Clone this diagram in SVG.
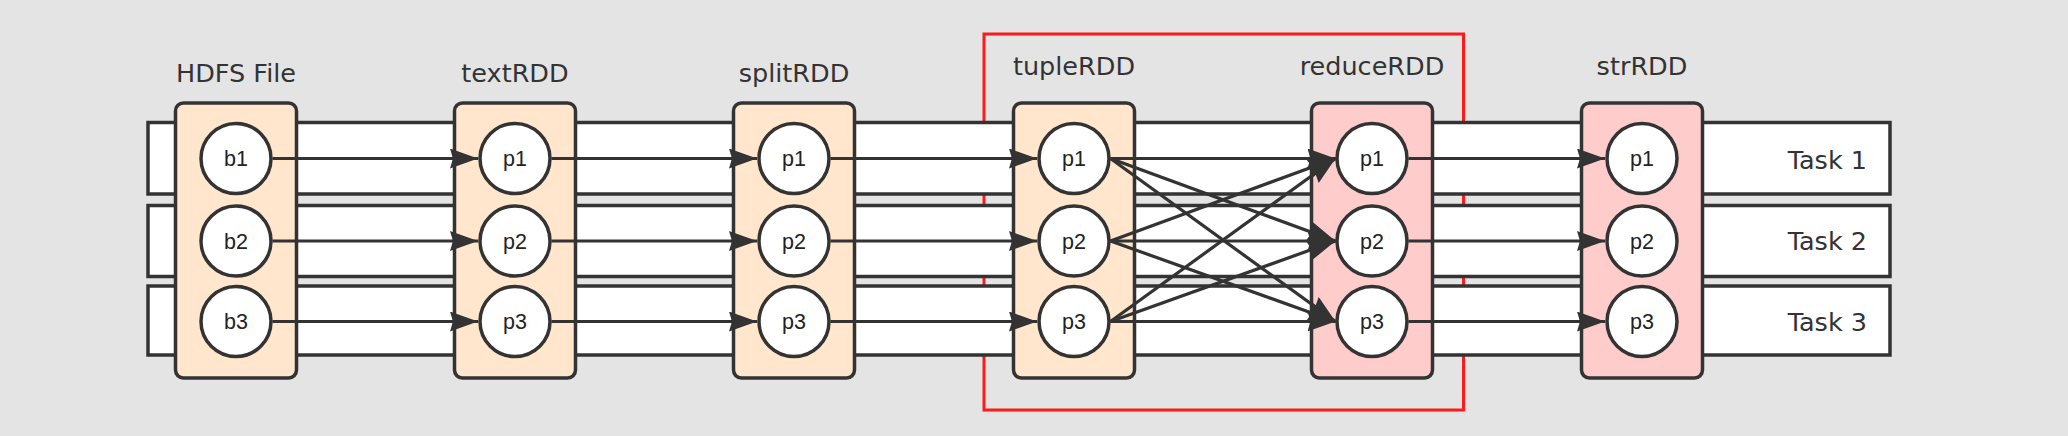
<svg xmlns="http://www.w3.org/2000/svg" width="2068" height="436" viewBox="0 0 2068 436">
<style>
.band{fill:#ffffff;stroke:#333333;stroke-width:3.5}
.box-o{fill:#ffe6cc;stroke:#333333;stroke-width:3.5}
.box-r{fill:#ffcccc;stroke:#333333;stroke-width:3.5}
.circ{fill:#ffffff;stroke:#333333;stroke-width:3.5}
.lbl{font-family:"DejaVu Sans",Verdana,sans-serif;font-size:25.5px;fill:#333333;text-anchor:middle}
.task{font-family:"DejaVu Sans",Verdana,sans-serif;font-size:25.5px;fill:#333333;text-anchor:end}
.pl{font-family:"Liberation Sans",Arial,sans-serif;font-size:21.5px;fill:#222222;text-anchor:middle}
.edge{fill:none;stroke:#333333;stroke-width:3.2;marker-end:url(#arr)}
</style>
<defs>
<marker id="arr" markerUnits="userSpaceOnUse" markerWidth="30" markerHeight="22" refX="28" refY="10" orient="auto" viewBox="0 0 30 22">
<path d="M0,0 L28,10 L0,20 L3,10 z" fill="#333333"/>
</marker>
</defs>
<rect x="0" y="0" width="2068" height="436" fill="#e4e4e4"/>

<g id="shuffle-boundary">
<rect x="984" y="34" width="479.5" height="376" fill="none" stroke="#ff1a1a" stroke-width="3"/>
</g>

<g id="task1"><rect class="band" x="148" y="122.5" width="1742" height="71.5"/><text class="task" x="1867" y="169">Task 1</text></g>
<g id="task2"><rect class="band" x="148" y="205.5" width="1742" height="71"/><text class="task" x="1867" y="250">Task 2</text></g>
<g id="task3"><rect class="band" x="148" y="286" width="1742" height="69"/><text class="task" x="1867" y="331">Task 3</text></g>

<g id="hdfs">
<text class="lbl" x="236" y="82">HDFS File</text>
<rect class="box-o" x="175.5" y="103" width="121" height="275" rx="8"/>
</g>
<g id="textRDD">
<text class="lbl" x="515" y="82">textRDD</text>
<rect class="box-o" x="454.5" y="103" width="121" height="275" rx="8"/>
</g>
<g id="splitRDD">
<text class="lbl" x="794" y="82">splitRDD</text>
<rect class="box-o" x="733.5" y="103" width="121" height="275" rx="8"/>
</g>
<g id="tupleRDD">
<text class="lbl" x="1074" y="75">tupleRDD</text>
<rect class="box-o" x="1013.5" y="103" width="121" height="275" rx="8"/>
</g>
<g id="reduceRDD">
<text class="lbl" x="1372" y="75">reduceRDD</text>
<rect class="box-r" x="1311.5" y="103" width="121" height="275" rx="8"/>
</g>
<g id="strRDD">
<text class="lbl" x="1642" y="75">strRDD</text>
<rect class="box-r" x="1581.5" y="103" width="121" height="275" rx="8"/>
</g>

<g id="connectors">
<path class="edge" d="M272.5,158.5 H478"/>
<path class="edge" d="M272.5,241 H478"/>
<path class="edge" d="M272.5,321.5 H478"/>
<path class="edge" d="M551.5,158.5 H757"/>
<path class="edge" d="M551.5,241 H757"/>
<path class="edge" d="M551.5,321.5 H757"/>
<path class="edge" d="M830.5,158.5 H1037"/>
<path class="edge" d="M830.5,241 H1037"/>
<path class="edge" d="M830.5,321.5 H1037"/>
<path class="edge" d="M1110.5,158.5 L1335.5,158.5"/>
<path class="edge" d="M1110.5,158.5 L1335.5,241"/>
<path class="edge" d="M1110.5,158.5 L1335.5,321.5"/>
<path class="edge" d="M1110.5,241 L1335.5,158.5"/>
<path class="edge" d="M1110.5,241 L1335.5,241"/>
<path class="edge" d="M1110.5,241 L1335.5,321.5"/>
<path class="edge" d="M1110.5,321.5 L1335.5,158.5"/>
<path class="edge" d="M1110.5,321.5 L1335.5,241"/>
<path class="edge" d="M1110.5,321.5 L1335.5,321.5"/>
<path class="edge" d="M1408.5,158.5 H1605"/>
<path class="edge" d="M1408.5,241 H1605"/>
<path class="edge" d="M1408.5,321.5 H1605"/>
</g>

<g id="hdfs-b1"><circle class="circ" cx="236" cy="158.5" r="35"/><text class="pl" x="236" y="166">b1</text></g>
<g id="hdfs-b2"><circle class="circ" cx="236" cy="241" r="35"/><text class="pl" x="236" y="248.5">b2</text></g>
<g id="hdfs-b3"><circle class="circ" cx="236" cy="321.5" r="35"/><text class="pl" x="236" y="329">b3</text></g>

<g id="textRDD-p1"><circle class="circ" cx="515" cy="158.5" r="35"/><text class="pl" x="515" y="166">p1</text></g>
<g id="textRDD-p2"><circle class="circ" cx="515" cy="241" r="35"/><text class="pl" x="515" y="248.5">p2</text></g>
<g id="textRDD-p3"><circle class="circ" cx="515" cy="321.5" r="35"/><text class="pl" x="515" y="329">p3</text></g>

<g id="splitRDD-p1"><circle class="circ" cx="794" cy="158.5" r="35"/><text class="pl" x="794" y="166">p1</text></g>
<g id="splitRDD-p2"><circle class="circ" cx="794" cy="241" r="35"/><text class="pl" x="794" y="248.5">p2</text></g>
<g id="splitRDD-p3"><circle class="circ" cx="794" cy="321.5" r="35"/><text class="pl" x="794" y="329">p3</text></g>

<g id="tupleRDD-p1"><circle class="circ" cx="1074" cy="158.5" r="35"/><text class="pl" x="1074" y="166">p1</text></g>
<g id="tupleRDD-p2"><circle class="circ" cx="1074" cy="241" r="35"/><text class="pl" x="1074" y="248.5">p2</text></g>
<g id="tupleRDD-p3"><circle class="circ" cx="1074" cy="321.5" r="35"/><text class="pl" x="1074" y="329">p3</text></g>

<g id="reduceRDD-p1"><circle class="circ" cx="1372" cy="158.5" r="35"/><text class="pl" x="1372" y="166">p1</text></g>
<g id="reduceRDD-p2"><circle class="circ" cx="1372" cy="241" r="35"/><text class="pl" x="1372" y="248.5">p2</text></g>
<g id="reduceRDD-p3"><circle class="circ" cx="1372" cy="321.5" r="35"/><text class="pl" x="1372" y="329">p3</text></g>

<g id="strRDD-p1"><circle class="circ" cx="1642" cy="158.5" r="35"/><text class="pl" x="1642" y="166">p1</text></g>
<g id="strRDD-p2"><circle class="circ" cx="1642" cy="241" r="35"/><text class="pl" x="1642" y="248.5">p2</text></g>
<g id="strRDD-p3"><circle class="circ" cx="1642" cy="321.5" r="35"/><text class="pl" x="1642" y="329">p3</text></g>
</svg>
